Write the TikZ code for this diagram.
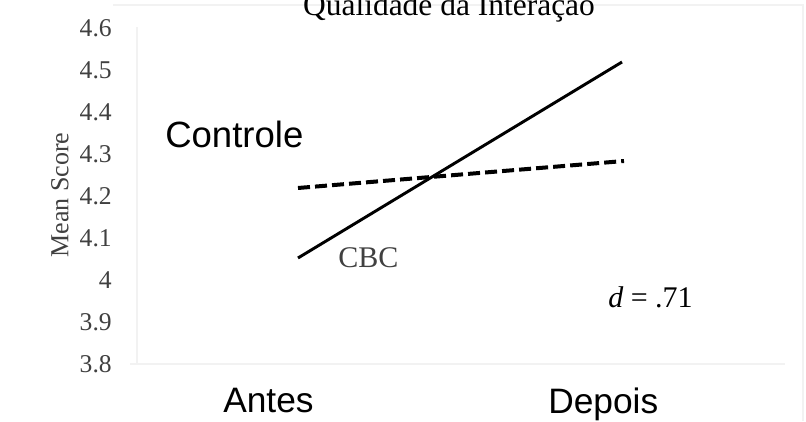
\documentclass[tikz,border=0pt]{standalone}
\usepackage{fontspec}
\setmainfont{Liberation Serif}
\setsansfont{Liberation Sans}

\tikzset{
    frameline/.style={draw=gray!10, line width=1pt},
    serif/.style={inner sep=0pt, text=black!75, font=\fontsize{19.2}{22}\selectfont},
    sanslabel/.style={inner sep=0pt, font=\sffamily\fontsize{26.5}{30}\selectfont},
}

\begin{document}
\begin{tikzpicture}[x=0.75pt, y=-0.75pt]
    \useasboundingbox (0,0) rectangle (806,421);
    % faint chart frame
    \coordinate (TL) at (113,5);
    \coordinate (TR) at (803,5);
    \coordinate (BR) at (803,421);
    \coordinate (AL) at (130,364);
    \coordinate (AR) at (785,364);
    \coordinate (VT) at (137,27);
    \coordinate (VB) at (137,364);
    \draw[frameline] (TL) -- (TR) -- (BR);
    \draw[frameline] (AL) -- (AR);
    \draw[frameline] (VT) -- (VB);
    \node[anchor=base, inner sep=0pt, font=\fontsize{23.6}{26}\selectfont] (title) at (449,16) {Qualidade da Interação};
    \node[serif, rotate=90, font=\fontsize{19.5}{22}\selectfont] (ylabel) at (60,195) {Mean Score};
    \foreach \i/\A in {0/4.6,1/4.5,2/4.4,3/4.3,4/4.2,5/4.1,6/4,7/3.9,8/3.8} {
        \node[serif, anchor=east] (tick\i) at (112,28.6+41.9*\i) {\A};
    }
    \coordinate (cbcA) at (298,258);
    \coordinate (cbcB) at (622,62);
    \coordinate (ctlA) at (298,188);
    \coordinate (ctlB) at (624,161);
    \draw[line width=2.2pt] (cbcA) -- (cbcB);
    \draw[line width=3pt, dash pattern=on 9pt off 3.8pt] (ctlA) -- (ctlB);
    \node[sanslabel, anchor=base west, font=\sffamily\fontsize{27.4}{30}\selectfont] (controle) at (165,147) {Controle};
    \node[serif, anchor=base west, font=\fontsize{22.5}{25}\selectfont] (cbc) at (338,267) {CBC};
    \node[anchor=base west, inner sep=0pt, font=\fontsize{22.5}{25}\selectfont] (effect) at (608,307) {\textit{d} = .71};
    \node[sanslabel, anchor=base west] (antes) at (223,412) {Antes};
    \node[sanslabel, anchor=base west] (depois) at (548,413) {Depois};
\end{tikzpicture}
\end{document}
